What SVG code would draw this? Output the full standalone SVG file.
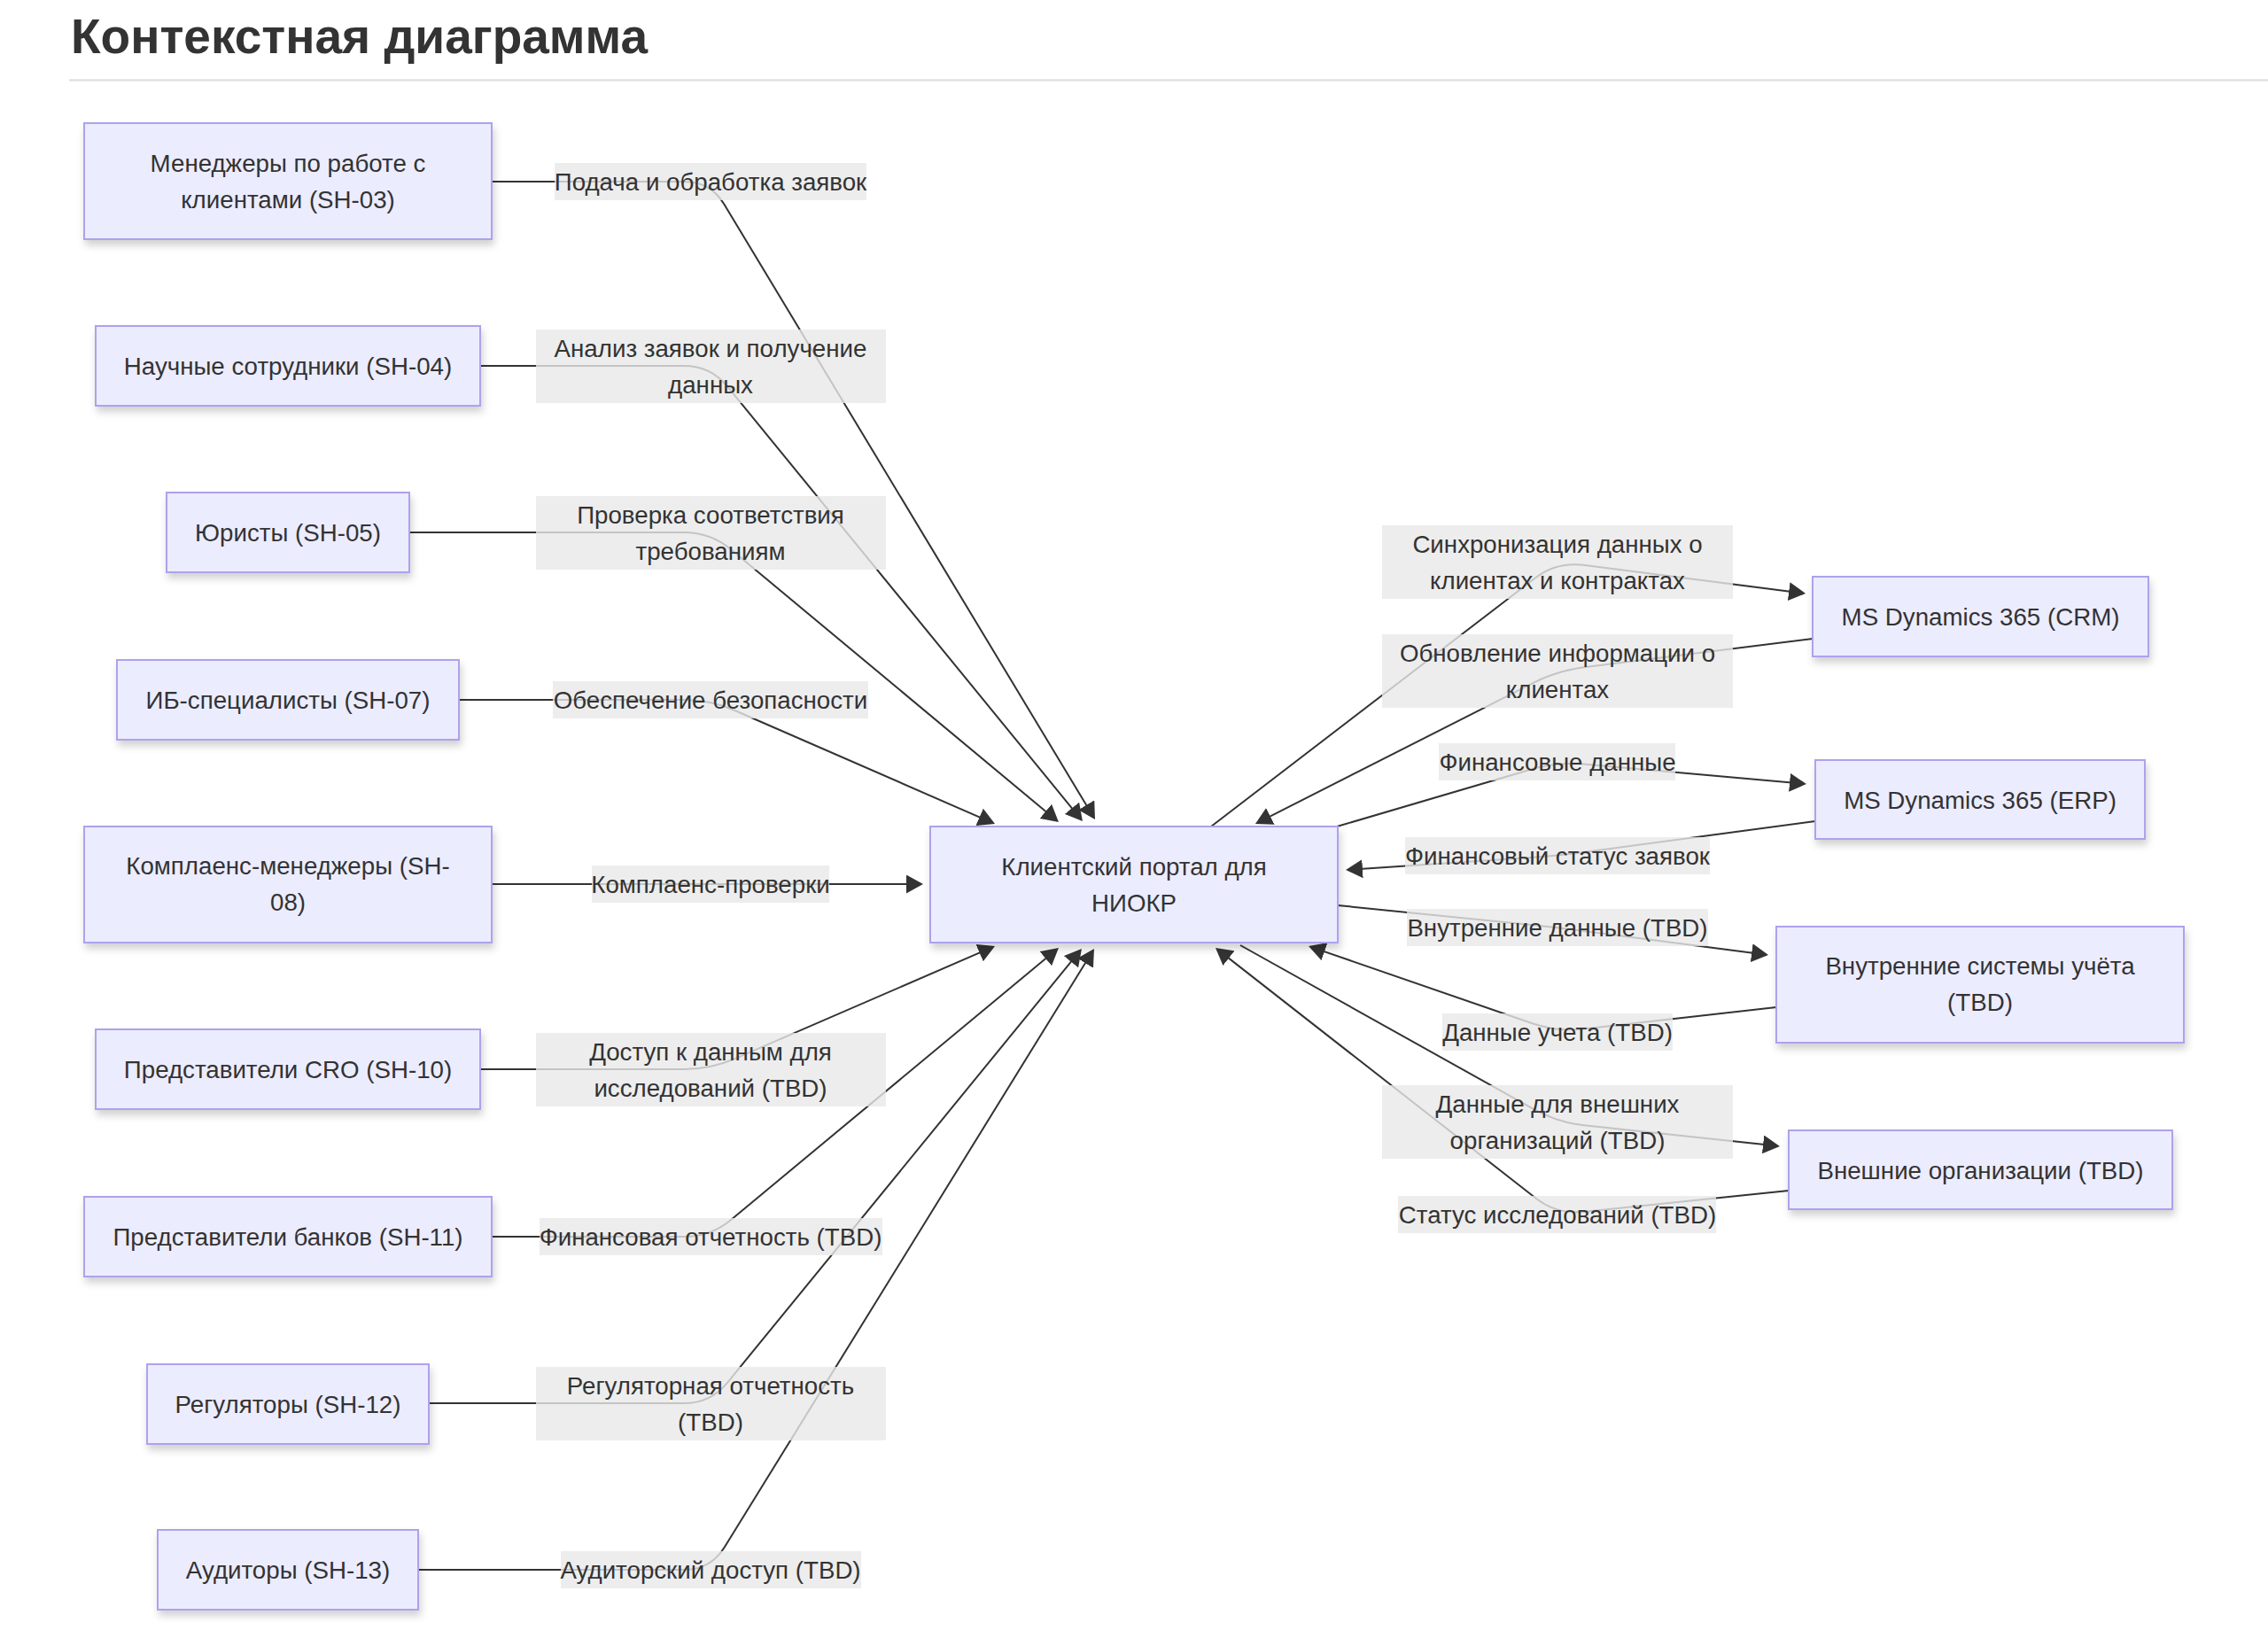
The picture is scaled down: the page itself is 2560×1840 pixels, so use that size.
<svg xmlns="http://www.w3.org/2000/svg" width="2560" height="1840" viewBox="0 0 2560 1840">
<defs>
<style>
.t{font-family:"Liberation Sans",Arial,Helvetica,sans-serif;font-size:27.7px;fill:#333;text-anchor:middle}
.title{font-family:"Liberation Sans",Arial,Helvetica,sans-serif;font-size:55px;font-weight:bold;fill:#333}
.n rect{fill:#ECECFF;stroke:#ada2ec;stroke-width:2;filter:url(#sh)}
.e{fill:none;stroke:#333;stroke-width:2;marker-end:url(#arr)}
.lb rect{fill:#e8e8e8;fill-opacity:0.8}
</style>
<filter id="sh" x="-10%" y="-20%" width="120%" height="150%">
<feDropShadow dx="2" dy="6" stdDeviation="4" flood-color="#000" flood-opacity="0.18"/>
</filter>
<marker id="arr" markerUnits="userSpaceOnUse" viewBox="0 0 21 21" markerWidth="21" markerHeight="21" refX="11" refY="10.5" orient="auto">
<path d="M0,0 L19,10.5 L0,21 z" fill="#333"/>
</marker>
</defs>
<rect x="0" y="0" width="2560" height="1840" fill="#fff"/>
<text class="title" x="80" y="59.5">Контекстная диаграмма</text>
<line x1="78" y1="90.5" x2="2560" y2="90.5" stroke="#dcdcdc" stroke-width="2"/>

<g id="connectors">
<path class="e" d="M555,205 L772,205 Q802,205 817.5,230.7 L1231.9,918.2"/>
<path class="e" d="M542,413 L772,413 Q802,413 821,436.2 L1216.9,920.8"/>
<path class="e" d="M462,601 L772,601 Q802,601 825.1,620.2 L1188.8,922.9"/>
<path class="e" d="M518,790 L772,790 Q802,790 829.5,802 L1115.7,926.8"/>
<path class="e" d="M555,998 L1034,998"/>
<path class="e" d="M542,1207 L772,1207 Q802,1207 829.5,1195.1 L1115.7,1071.2"/>
<path class="e" d="M555,1396 L772,1396 Q802,1396 825.1,1376.9 L1188.8,1075.1"/>
<path class="e" d="M484,1584 L772,1584 Q802,1584 821,1560.8 L1215.9,1077.2"/>
<path class="e" d="M472,1772 L772,1772 Q802,1772 817.8,1746.5 L1230.8,1077.8"/>
<path class="e" d="M1367,933 L1733.2,652.2 Q1757,634 1786.8,637.8 L2030.1,669"/>
<path class="e" d="M2046,721 L1787.8,753.3 Q1758,757 1731.2,770.6 L1424.1,926.4"/>
<path class="e" d="M1509,933 L1728.2,868.5 Q1757,860 1786.9,862.6 L2031,884.3"/>
<path class="e" d="M2049,927 L1787.7,962 Q1758,966 1728.1,968 L1527,981.5"/>
<path class="e" d="M1510,1022 L1728.2,1044 Q1758,1047 1787.8,1050.9 L1988.1,1077"/>
<path class="e" d="M2005,1137 L1787.8,1161.6 Q1758,1165 1729.6,1155.2 L1484.6,1070.6"/>
<path class="e" d="M1400,1067 L1731.8,1252.4 Q1758,1267 1787.8,1270.2 L2001,1293.1"/>
<path class="e" d="M2019,1344 L1786.9,1367.9 Q1757,1371 1733.4,1352.5 L1378.3,1074.9"/>
</g>

<g id="edge-labels">
<g class="lb"><rect x="626" y="184" width="352" height="42"/><text class="t" x="802" y="215">Подача и обработка заявок</text></g>
<g class="lb"><rect x="605" y="372" width="395" height="83"/><text class="t" x="802" y="403">Анализ заявок и получение</text><text class="t" x="802" y="444">данных</text></g>
<g class="lb"><rect x="605" y="560" width="395" height="83"/><text class="t" x="802" y="591">Проверка соответствия</text><text class="t" x="802" y="632">требованиям</text></g>
<g class="lb"><rect x="624" y="769" width="356" height="42"/><text class="t" x="802" y="800">Обеспечение безопасности</text></g>
<g class="lb"><rect x="668" y="977" width="268" height="42"/><text class="t" x="802" y="1008">Комплаенс-проверки</text></g>
<g class="lb"><rect x="605" y="1166" width="395" height="83"/><text class="t" x="802" y="1197">Доступ к данным для</text><text class="t" x="802" y="1238">исследований (TBD)</text></g>
<g class="lb"><rect x="609" y="1375" width="387" height="42"/><text class="t" x="802" y="1406">Финансовая отчетность (TBD)</text></g>
<g class="lb"><rect x="605" y="1543" width="395" height="83"/><text class="t" x="802" y="1574">Регуляторная отчетность</text><text class="t" x="802" y="1615">(TBD)</text></g>
<g class="lb"><rect x="633" y="1751" width="339" height="42"/><text class="t" x="802" y="1782">Аудиторский доступ (TBD)</text></g>

<g class="lb"><rect x="1560" y="593" width="396" height="83"/><text class="t" x="1758" y="624">Синхронизация данных о</text><text class="t" x="1758" y="665">клиентах и контрактах</text></g>
<g class="lb"><rect x="1560" y="716" width="396" height="83"/><text class="t" x="1758" y="747">Обновление информации о</text><text class="t" x="1758" y="788">клиентах</text></g>
<g class="lb"><rect x="1624" y="839" width="267" height="42"/><text class="t" x="1758" y="870">Финансовые данные</text></g>
<g class="lb"><rect x="1586" y="945" width="344" height="42"/><text class="t" x="1758" y="976">Финансовый статус заявок</text></g>
<g class="lb"><rect x="1588" y="1026" width="340" height="42"/><text class="t" x="1758" y="1057">Внутренние данные (TBD)</text></g>
<g class="lb"><rect x="1628" y="1144" width="260" height="42"/><text class="t" x="1758" y="1175">Данные учета (TBD)</text></g>
<g class="lb"><rect x="1560" y="1225" width="396" height="83"/><text class="t" x="1758" y="1256">Данные для внешних</text><text class="t" x="1758" y="1297">организаций (TBD)</text></g>
<g class="lb"><rect x="1578" y="1350" width="359" height="42"/><text class="t" x="1758" y="1381">Статус исследований (TBD)</text></g>
</g>

<g id="n-sh03" class="n"><rect x="95" y="139" width="460" height="131"/><text class="t" x="325" y="194">Менеджеры по работе с</text><text class="t" x="325" y="235">клиентами (SH-03)</text></g>
<g id="n-sh04" class="n"><rect x="108" y="368" width="434" height="90"/><text class="t" x="325" y="423">Научные сотрудники (SH-04)</text></g>
<g id="n-sh05" class="n"><rect x="188" y="556" width="274" height="90"/><text class="t" x="325" y="611">Юристы (SH-05)</text></g>
<g id="n-sh07" class="n"><rect x="132" y="745" width="386" height="90"/><text class="t" x="325" y="800">ИБ-специалисты (SH-07)</text></g>
<g id="n-sh08" class="n"><rect x="95" y="933" width="460" height="131"/><text class="t" x="325" y="987">Комплаенс-менеджеры (SH-</text><text class="t" x="325" y="1028">08)</text></g>
<g id="n-sh10" class="n"><rect x="108" y="1162" width="434" height="90"/><text class="t" x="325" y="1217">Представители CRO (SH-10)</text></g>
<g id="n-sh11" class="n"><rect x="95" y="1351" width="460" height="90"/><text class="t" x="325" y="1406">Представители банков (SH-11)</text></g>
<g id="n-sh12" class="n"><rect x="166" y="1540" width="318" height="90"/><text class="t" x="325" y="1595">Регуляторы (SH-12)</text></g>
<g id="n-sh13" class="n"><rect x="178" y="1727" width="294" height="90"/><text class="t" x="325" y="1782">Аудиторы (SH-13)</text></g>

<g id="n-portal" class="n"><rect x="1050" y="933" width="460" height="131"/><text class="t" x="1280" y="987.5">Клиентский портал для</text><text class="t" x="1280" y="1028.5">НИОКР</text></g>

<g id="n-crm" class="n"><rect x="2046" y="651" width="379" height="90"/><text class="t" x="2235.5" y="706">MS Dynamics 365 (CRM)</text></g>
<g id="n-erp" class="n"><rect x="2049" y="858" width="372" height="89"/><text class="t" x="2235" y="912.5">MS Dynamics 365 (ERP)</text></g>
<g id="n-acc" class="n"><rect x="2005" y="1046" width="460" height="131"/><text class="t" x="2235" y="1100">Внутренние системы учёта</text><text class="t" x="2235" y="1141">(TBD)</text></g>
<g id="n-ext" class="n"><rect x="2019" y="1276" width="433" height="89"/><text class="t" x="2235.5" y="1330.5">Внешние организации (TBD)</text></g>
</svg>
